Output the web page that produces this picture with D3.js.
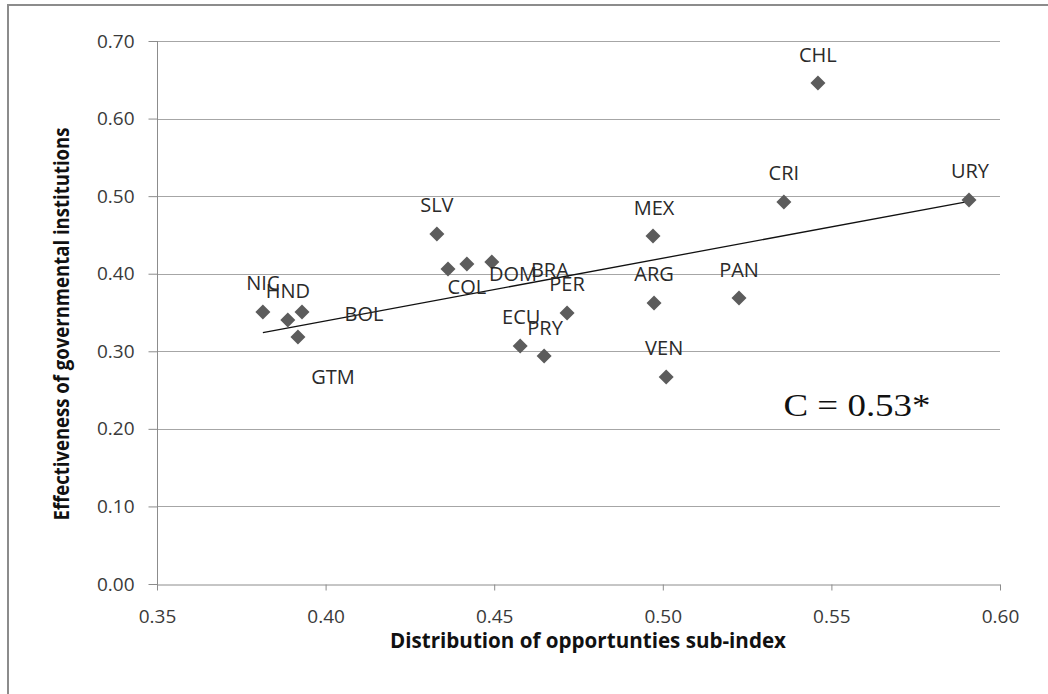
<!DOCTYPE html>
<html>
<head>
<meta charset="utf-8">
<script src="https://cdn.jsdelivr.net/npm/d3@7"></script>
<style>
  html, body { margin: 0; padding: 0; background: #fff; }
  svg { display: block; }
</style>
</head>
<body>
<svg id="chart" width="1048" height="694"></svg>
<script>
// ---- Data ----
const countries = ["NIC","HND","BOL","GTM","SLV","COL","DOM","BRA","ECU","PRY","PER","MEX","ARG","VEN","PAN","CRI","CHL","URY"];
const opportunities = [0.3814,0.3888,0.3930,0.3918,0.4330,0.4363,0.4419,0.4493,0.4577,0.4648,0.4716,0.4971,0.4974,0.5010,0.5226,0.5359,0.5460,0.5908];
const effectiveness = [0.3507,0.3403,0.3507,0.3184,0.4512,0.4061,0.4125,0.4151,0.3068,0.2939,0.3494,0.4486,0.3623,0.2669,0.3687,0.4925,0.6459,0.4950];
// where each country label sits, in data units (labels were placed by hand in the original)
const labelX = [0.3814,0.3888,0.4114,0.4022,0.4330,0.4419,0.4556,0.4665,0.4580,0.4651,0.4716,0.4974,0.4974,0.5004,0.5226,0.5359,0.5460,0.5911];
const labelY = [0.3893,0.3790,0.3481,0.2669,0.4886,0.3829,0.4009,0.4048,0.3442,0.3313,0.3868,0.4860,0.4009,0.3055,0.4048,0.5311,0.6820,0.5337];
const xTicks = [0.35,0.40,0.45,0.50,0.55,0.60];
const yTicks = [0.00,0.10,0.20,0.30,0.40,0.50,0.60,0.70];
const xTitle = "Distribution of opportunties sub-index";
const yTitle = "Effectiveness of governmental institutions";
const annotation = "C = 0.53*";

const points = countries.map((c, i) => ({ name: c, x: opportunities[i], y: effectiveness[i], lx: labelX[i], ly: labelY[i] }));

// ---- Layout ----
const svg = d3.select("#chart");
const plotL = 157, plotR = 1000, plotT = 41, plotB = 584;
const x = d3.scaleLinear().domain([0.35, 0.60]).range([plotL, plotR]);
const y = d3.scaleLinear().domain([0, 0.70]).range([plotB, plotT]);

// outer frame (left and top edges)
svg.append("path")
  .attr("d", "M8,694 L8,5 L1048,5")
  .attr("fill", "none").attr("stroke", "#8c8c8c").attr("stroke-width", 2);

// gridlines
svg.append("g").selectAll("line").data(yTicks.filter(d => d > 0)).join("line")
  .attr("x1", plotL).attr("x2", plotR)
  .attr("y1", d => Math.round(y(d)) + 0.5).attr("y2", d => Math.round(y(d)) + 0.5)
  .attr("stroke", "#a6a6a6").attr("stroke-width", 1);

// y axis
const yAxis = svg.append("g").attr("transform", `translate(${plotL + 0.5},0)`)
  .call(d3.axisLeft(y).tickValues(yTicks).tickFormat(d3.format(".2f")).tickSize(9).tickPadding(14).tickSizeOuter(0));
// x axis
const xAxis = svg.append("g").attr("transform", `translate(0,${plotB + 0.5})`)
  .call(d3.axisBottom(x).tickValues(xTicks).tickFormat(d3.format(".2f")).tickSize(6).tickPadding(19).tickSizeOuter(0));

[yAxis, xAxis].forEach(a => {
  a.select(".domain").attr("stroke", "#8c8c8c");
  a.selectAll(".tick line").attr("stroke", "#8c8c8c");
  a.selectAll(".tick text").attr("fill", "#3a3a3a")
    .attr("font-family", "'Open Sans', sans-serif").attr("font-size", 19);
});
yAxis.select(".domain").attr("d", `M0,${plotT}V${plotB + 6}`);

// trend line (ordinary least squares over the points)
const mx = d3.mean(opportunities), my = d3.mean(effectiveness);
const sxy = d3.sum(points, p => (p.x - mx) * (p.y - my));
const sxx = d3.sum(points, p => (p.x - mx) * (p.x - mx));
const slope = sxy / sxx, intercept = my - slope * mx;
const [x0, x1] = d3.extent(opportunities);
svg.append("line")
  .attr("x1", x(x0)).attr("y1", y(intercept + slope * x0))
  .attr("x2", x(x1)).attr("y2", y(intercept + slope * x1))
  .attr("stroke", "#111").attr("stroke-width", 1.3);

// diamonds
const r = 7.5;
svg.append("g").selectAll("path").data(points).join("path")
  .attr("transform", d => `translate(${x(d.x)},${y(d.y)})`)
  .attr("d", `M0,${-r}L${r},0L0,${r}L${-r},0Z`)
  .attr("fill", "#5c5c5c");

// country labels
svg.append("g").selectAll("text").data(points).join("text")
  .attr("x", d => x(d.lx))
  .attr("y", d => y(d.ly))
  .attr("text-anchor", "middle").attr("dominant-baseline", "central")
  .attr("font-family", "'Open Sans', sans-serif").attr("font-size", 20)
  .attr("fill", "#2a2a2a")
  .text(d => d.name);

// annotation
svg.append("text")
  .attr("x", x(0.5576)).attr("y", y(0.2295))
  .attr("text-anchor", "middle").attr("dominant-baseline", "central")
  .attr("font-family", "'Liberation Serif', 'Times New Roman', serif").attr("font-size", 31)
  .attr("textLength", 147).attr("lengthAdjust", "spacingAndGlyphs")
  .attr("fill", "#111")
  .text(annotation);

// axis titles
svg.append("text")
  .attr("x", 588).attr("y", 648)
  .attr("text-anchor", "middle")
  .attr("font-family", "'Open Sans', sans-serif").attr("font-weight", "bold").attr("font-size", 21)
  .attr("textLength", 396).attr("lengthAdjust", "spacingAndGlyphs")
  .attr("fill", "#111")
  .text(xTitle);

svg.append("text")
  .attr("transform", "translate(69,324) rotate(-90)")
  .attr("text-anchor", "middle")
  .attr("font-family", "'Open Sans', sans-serif").attr("font-weight", "bold").attr("font-size", 21)
  .attr("textLength", 393).attr("lengthAdjust", "spacingAndGlyphs")
  .attr("fill", "#111")
  .text(yTitle);
</script>
</body>
</html>
